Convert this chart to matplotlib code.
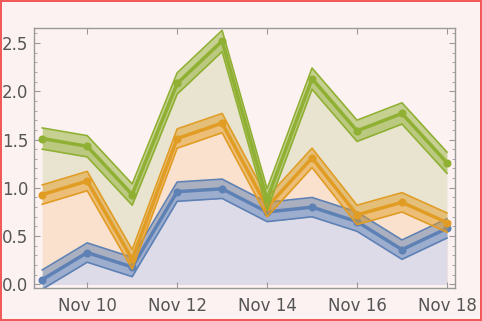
import numpy as np
import pandas as pd
import matplotlib
matplotlib.use("Agg")
import matplotlib.pyplot as plt
import matplotlib.dates as mdates
from matplotlib.ticker import MultipleLocator

# Data
dates = pd.date_range("2023-11-09", "2023-11-18", freq="D")
blue = [0.05, 0.33, 0.18, 0.96, 0.99, 0.75, 0.80, 0.65, 0.36, 0.58]
orange = [0.93, 1.07, 0.26, 1.51, 1.67, 0.80, 1.31, 0.72, 0.85, 0.64]
green = [1.51, 1.43, 0.93, 2.08, 2.52, 0.88, 2.13, 1.59, 1.77, 1.26]
blue_err = [0.1] * 10
orange_err = [0.1] * 10
green_err = [0.11] * 10

bg = "#fdf2f2"
series = [
    (blue, blue_err, "#5e81b5", "#dddbe7"),
    (orange, orange_err, "#e19c24", "#f9e1cd"),
    (green, green_err, "#8fb032", "#e8e4d0"),
]

fig = plt.figure(figsize=(4.82, 3.21), dpi=100, facecolor=bg)
fig.patch.set_edgecolor("#f05a5a")
fig.patch.set_linewidth(1.5)
ax = fig.add_axes([0.0705, 0.104, 0.8745, 0.809])
ax.set_facecolor(bg)

x = mdates.date2num(dates)

# fillings to axis, drawn back to front
for vals, err, col, fill in reversed(series):
    ax.fill_between(x, 0, vals, color=fill, lw=0, zorder=1)

# bands, centre lines, points
for k, (vals, err, col, fill) in enumerate(series):
    v = np.array(vals)
    e = np.array(err)
    z = 2 + k
    ax.fill_between(x, v - e, v + e, color=col, alpha=0.5, lw=0, zorder=z)
    ax.plot(x, v - e, color=col, lw=1.2, zorder=z)
    ax.plot(x, v + e, color=col, lw=1.2, zorder=z)
    ax.plot(x, v, color=col, lw=2.5, marker="o", ms=4.8, zorder=z)

x0 = mdates.date2num(pd.Timestamp("2023-11-09"))
ax.set_xlim(x0 - 0.184, x0 + 9.19)
ax.set_ylim(-0.033, 2.655)

ticks = pd.date_range("2023-11-10", "2023-11-18", freq="2D")
ax.set_xticks(mdates.date2num(ticks))
ax.set_xticklabels([d.strftime("%b %-d") for d in ticks])
ax.yaxis.set_major_locator(MultipleLocator(0.5))
ax.yaxis.set_minor_locator(MultipleLocator(0.1))
ax.yaxis.set_major_formatter(plt.FuncFormatter(lambda v, p: f"{v:.1f}"))

ax.tick_params(axis="both", which="both", direction="in", colors="#999999",
               labelcolor="#555555", labelsize=12, top=True, right=True)
ax.tick_params(axis="both", which="major", length=4, width=0.8)
ax.tick_params(axis="y", which="minor", length=2.5, width=0.6)
ax.tick_params(axis="x", pad=7)
ax.tick_params(axis="y", pad=4)
for sp in ax.spines.values():
    sp.set_color("#999999")
    sp.set_linewidth(1.0)

plt.savefig("out.png", dpi=100, facecolor=bg, edgecolor=fig.patch.get_edgecolor())
